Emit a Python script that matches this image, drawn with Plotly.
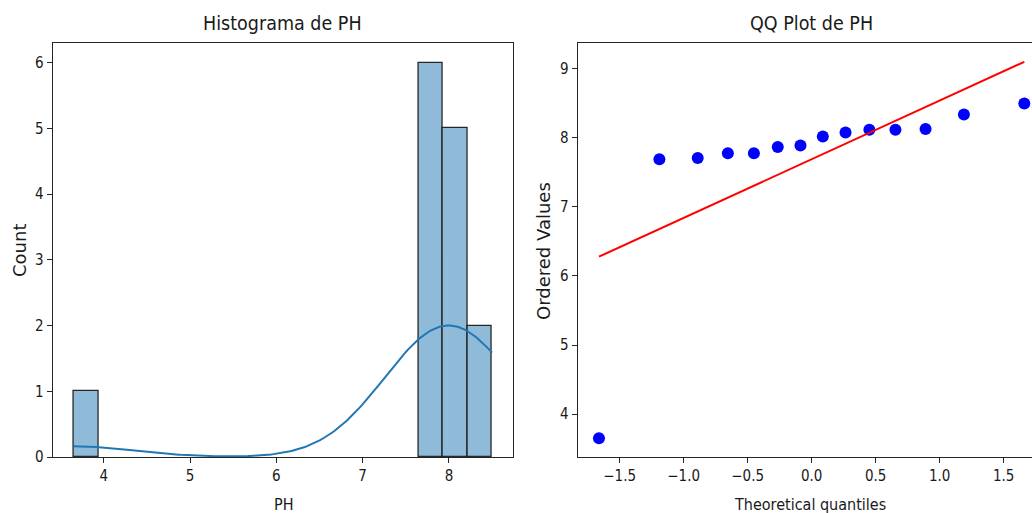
import numpy as np
import plotly.graph_objects as go
from statistics import NormalDist

# ---------------- data ----------------
ph_values = [3.65, 7.69, 7.71, 7.78, 7.78, 7.87, 7.89, 8.02, 8.08, 8.13, 8.12, 8.12, 8.34, 8.50]
n_bins = 17

hist_x_ticks = [4, 5, 6, 7, 8]
hist_y_ticks = [0, 1, 2, 3, 4, 5, 6]
qq_x_ticks = [-1.5, -1.0, -0.5, 0.0, 0.5, 1.0, 1.5]
qq_x_ticktext = ["\u22121.5", "\u22121.0", "\u22120.5", "0.0", "0.5", "1.0", "1.5"]
qq_y_ticks = [4, 5, 6, 7, 8, 9]

# ---------------- derived statistics ----------------
ph = np.array(ph_values, dtype=float)
n = len(ph)
lo, hi = ph.min(), ph.max()
bin_size = (hi - lo) / n_bins

# KDE (gaussian, Scott's rule), scaled to counts, clipped to data range
bw = n ** (-1 / 5) * ph.std(ddof=1)
grid = np.linspace(lo, hi, 200)
dens = np.exp(-0.5 * ((grid[:, None] - ph[None, :]) / bw) ** 2).sum(axis=1) / (n * bw * np.sqrt(2 * np.pi))
kde_counts = dens * n * bin_size

# QQ plot (Filliben plotting positions)
osr = np.sort(ph)
m = np.empty(n)
m[-1] = 0.5 ** (1.0 / n)
m[0] = 1 - m[-1]
i = np.arange(2, n)
m[1:-1] = (i - 0.3175) / (n + 0.365)
osm = np.array([NormalDist().inv_cdf(v) for v in m])
slope, intercept = np.polyfit(osm, osr, 1)
fit_line = slope * osm + intercept

# ---------------- figure ----------------
W, H = 1032, 513
TXT = "#1a1a1a"
FONT = "DejaVu Sans Condensed, DejaVu Sans"
FONT_N = "DejaVu Sans"

def px_x(p):
    return p / W

def px_y(p):
    return (H - p) / H

fig = go.Figure()

fig.add_trace(go.Histogram(
    x=ph, xbins=dict(start=lo, end=lo + n_bins * bin_size * 1.0001, size=bin_size * 1.0000001),
    marker=dict(color="#8fbbd9", line=dict(color="rgba(20,20,20,0.9)", width=1.3)),
    xaxis="x", yaxis="y", showlegend=False,
))
fig.add_trace(go.Scatter(
    x=grid, y=kde_counts, mode="lines", line=dict(color="#1f77b4", width=2),
    xaxis="x", yaxis="y", showlegend=False,
))
fig.add_trace(go.Scatter(
    x=osm, y=osr, mode="markers", marker=dict(color="blue", size=12, line=dict(width=0)),
    xaxis="x2", yaxis="y2", showlegend=False,
))
fig.add_trace(go.Scatter(
    x=osm, y=fit_line, mode="lines", line=dict(color="red", width=2),
    xaxis="x2", yaxis="y2", showlegend=False,
))

# axis ranges (matplotlib-like 5% margins)
hx_pad = (hi - lo) * 0.05
qx_pad = (osm.max() - osm.min()) * 0.05
q_ymin = min(osr.min(), fit_line.min())
q_ymax = max(osr.max(), fit_line.max())
qy_pad = (q_ymax - q_ymin) * 0.05

ydom = [px_y(457), px_y(43)]
common = dict(showgrid=False, zeroline=False, showline=True, linecolor="#262626", linewidth=1.2,
              ticks="outside", ticklen=5, tickwidth=1.2, tickcolor="#262626",
              tickfont=dict(family=FONT, size=15, color=TXT), automargin=False)

fig.update_layout(
    width=W, height=H, margin=dict(l=0, r=0, t=0, b=0),
    paper_bgcolor="white", plot_bgcolor="white", bargap=0,
    xaxis=dict(domain=[px_x(52.7), px_x(513)], anchor="y", range=[lo - hx_pad, hi + hx_pad],
               tickvals=hist_x_ticks, mirror=True, **common),
    yaxis=dict(domain=ydom, anchor="x", range=[0, 6.3], tickvals=hist_y_ticks, mirror=True, **common),
    xaxis2=dict(domain=[px_x(577.7), 1.0], anchor="y2",
                range=[osm.min() - qx_pad, osm.min() - qx_pad + (1032 - 577.7) / 128.0],
                tickvals=qq_x_ticks, ticktext=qq_x_ticktext, mirror=True, **common),
    yaxis2=dict(domain=ydom, anchor="x2", range=[q_ymin - qy_pad, q_ymax + qy_pad],
                tickvals=qq_y_ticks, mirror=False, **common),
)

annots = [
    dict(text="Histograma de PH", x=px_x(282.9), y=px_y(23), size=19.5, angle=0, f=FONT),
    dict(text="QQ Plot de PH", x=px_x(811), y=px_y(23), size=19.5, angle=0, f=FONT),
    dict(text="PH", x=px_x(284), y=px_y(504), size=16, angle=0, f=FONT),
    dict(text="Theoretical quantiles", x=px_x(810), y=px_y(504), size=16, angle=0, f=FONT),
    dict(text="Count", x=px_x(19), y=px_y(251), size=18, angle=-90, f=FONT_N),
    dict(text="Ordered Values", x=px_x(543), y=px_y(251), size=18, angle=-90, f=FONT_N),
]
for a in annots:
    fig.add_annotation(text=a["text"], x=a["x"], y=a["y"], xref="paper", yref="paper",
                       xanchor="center", yanchor="middle", showarrow=False, textangle=a["angle"],
                       font=dict(family=a["f"], size=a["size"], color=TXT))

fig.write_html("out.html")
